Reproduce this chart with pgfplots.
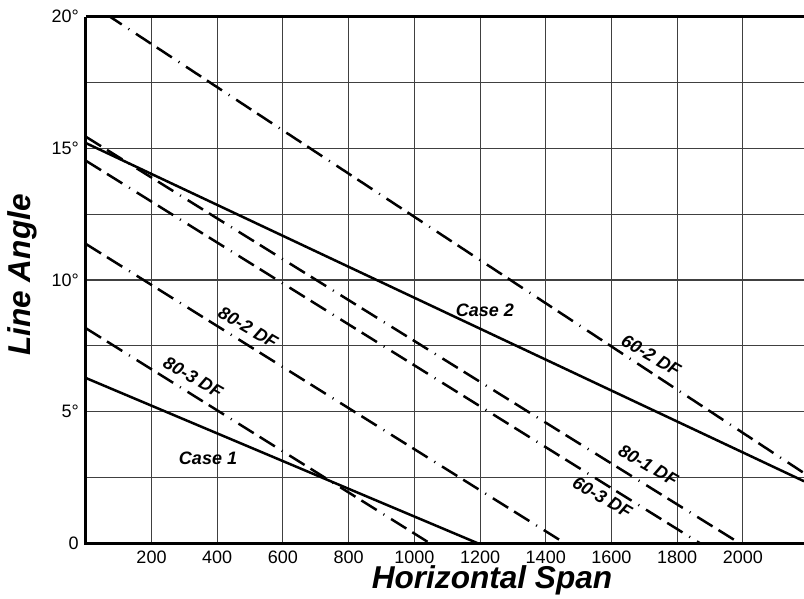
\documentclass[border=0pt]{standalone}
\usepackage{fontspec}
\setmainfont{Liberation Sans}
\usepackage{pgfplots}
\pgfplotsset{compat=1.18}
\begin{document}
\begin{tikzpicture}[x=1pt,y=1pt]
\path[use as bounding box] (0,0) rectangle (402,299.5);
\begin{axis}[
  at={(42.9pt,27.8pt)}, anchor=south west,
  scale only axis, width=359.1pt, height=263.4pt,
  xmin=0, xmax=2186, ymin=0, ymax=20,
  xtick={200,400,600,1000,1200,1400,1600,1800,2000},
  extra x ticks={800},
  extra x tick style={grid style={black, line width=1.1pt}},
  ytick={0,5,10,15,20},
  yticklabels={0,5°,10°,15°,20°},
  minor ytick={2.5,7.5,12.5,17.5},
  grid=both,
  major grid style={black!75, line width=0.55pt},
  minor grid style={black!75, line width=0.55pt},
  major tick length=0pt, minor tick length=0pt,
  axis line style={draw=none},
  /pgf/number format/assume math mode=true,
  /pgf/number format/set thousands separator={},
  tick label style={font=\fontsize{9}{10}\selectfont},
  xlabel={\bfseries\itshape Horizontal Span},
  ylabel={\bfseries\itshape Line Angle},
  xlabel style={at={(rel axis cs:0.5656,0)}, anchor=center, yshift=-18.5pt, font=\fontsize{15.8}{18}\selectfont},
  ylabel style={at={(rel axis cs:0,0.5095)}, anchor=center, yshift=31.9pt, font=\fontsize{15.8}{18}\selectfont},
  every axis plot/.append style={black, line width=1.25pt},
  df/.style={line cap=butt, dash pattern=on 9pt off 3.5pt on 9pt off 4pt on 0.5pt off 4pt},
]
% Case 2
\addplot[solid] coordinates {(0,15.2) (2186,2.36)};
% Case 1
\addplot[solid] coordinates {(0,6.28) (1194,0)};
% 60-2 DF
\addplot[df] coordinates {(0,20.6) (2186,2.67)};
% 80-1 DF
\addplot[df] coordinates {(0,15.44) (1991,0)};
% 60-3 DF
\addplot[df] coordinates {(0,14.53) (1870,0)};
% 80-2 DF
\addplot[df] coordinates {(0,11.37) (1459,0)};
% 80-3 DF
\addplot[df] coordinates {(0,8.17) (1048,0)};

\begin{scope}[font=\fontsize{9}{10}\selectfont\bfseries\itshape]
\node[rotate=-30] at (axis cs:1721,7.12) {60-2 DF};
\node at (axis cs:1215,8.86) {Case 2};
\node[rotate=-30] at (axis cs:494,8.2) {80-2 DF};
\node[rotate=-30] at (axis cs:327,6.32) {80-3 DF};
\node at (axis cs:372,3.24) {Case 1};
\node[rotate=-30] at (axis cs:1712,2.98) {80-1 DF};
\node[rotate=-30] at (axis cs:1572,1.76) {60-3 DF};
\end{scope}
\end{axis}
\draw[line width=1.5pt] (current axis.north west) -- (current axis.south west) -- (current axis.south east);
\draw[line width=1.2pt] (current axis.north west) -- (current axis.north east);
\end{tikzpicture}
\end{document}
